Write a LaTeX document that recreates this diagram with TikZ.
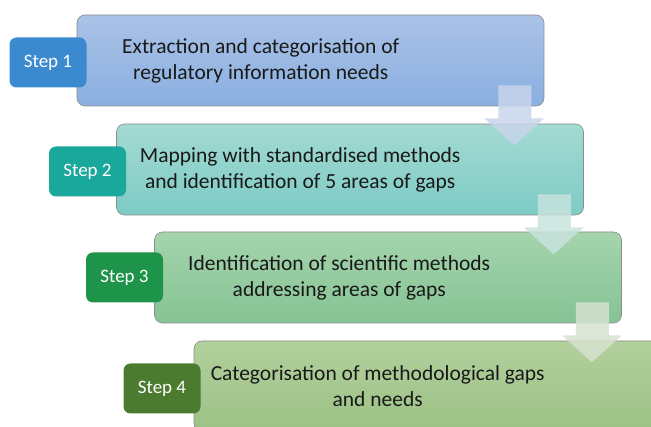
\documentclass[tikz,border=0pt]{standalone}
\usepackage{fontspec}
\setmainfont{Carlito}
\usetikzlibrary{positioning,calc}
\definecolor{boxonetop}{RGB}{170,194,231}
\definecolor{boxonebot}{RGB}{138,175,224}
\definecolor{boxtwotop}{RGB}{163,218,210}
\definecolor{boxtwobot}{RGB}{125,203,197}
\definecolor{boxthreetop}{RGB}{165,212,172}
\definecolor{boxthreebot}{RGB}{133,195,148}
\definecolor{boxfourtop}{RGB}{178,208,156}
\definecolor{boxfourbot}{RGB}{156,193,134}
\definecolor{stepone}{RGB}{59,138,208}
\definecolor{steptwo}{RGB}{26,167,156}
\definecolor{stepthree}{RGB}{30,147,74}
\definecolor{stepfour}{RGB}{75,123,47}
\definecolor{arrowone}{RGB}{201,213,235}
\definecolor{arrowtwo}{RGB}{200,227,221}
\definecolor{arrowthree}{RGB}{214,226,207}

\begin{document}
\begin{tikzpicture}[x=1pt,y=-1pt,
  stepbox/.style={draw=black!45, line width=0.6pt, rounded corners=8pt,
    minimum width=467pt, minimum height=91pt, inner sep=0pt},
  steplabel/.style={rounded corners=7pt, minimum width=77pt, minimum height=50pt,
    inner sep=0pt, text=white, font=\fontsize{19}{22}\selectfont},
  boxtext/.style={align=center, text=black!90, font=\fontsize{21.5}{26}\selectfont},
  flowarrow/.style={fill opacity=0.85}]
  \clip (0,0) rectangle (651,427);

  % Process boxes
  \node[stepbox, top color=boxonetop, bottom color=boxonebot] (box1) at (310.5,60.5) {};
  \node[stepbox, top color=boxtwotop, bottom color=boxtwobot] (box2) at (350,169.5) {};
  \node[stepbox, top color=boxthreetop, bottom color=boxthreebot] (box3) at (388,277.5) {};
  \node[stepbox, top color=boxfourtop, bottom color=boxfourbot] (box4) at (427.5,386.5) {};

  % Box texts
  \node[boxtext] (text1) at ($(box1.west)+(184,0)$) {Extraction and categorisation of\\regulatory information needs};
  \node[boxtext] (text2) at ($(box2.west)+(184,0)$) {Mapping with standardised methods\\and identification of 5 areas of gaps};
  \node[boxtext] (text3) at ($(box3.west)+(185,0)$) {Identification of scientific methods\\addressing areas of gaps};
  \node[boxtext] (text4) at ($(box4.west)+(184,0)$) {Categorisation of methodological gaps\\and needs};

  % Step labels
  \node[steplabel, fill=stepone, anchor=east] (step1) at ($(box1.west)+(10,2)$) {Step 1};
  \node[steplabel, fill=steptwo, anchor=east] (step2) at ($(box2.west)+(10,2)$) {Step 2};
  \node[steplabel, fill=stepthree, anchor=east] (step3) at ($(box3.west)+(9,0)$) {Step 3};
  \node[steplabel, fill=stepfour, anchor=east] (step4) at ($(box4.west)+(7,2)$) {Step 4};

  % Arrows between boxes
  \foreach \a/\c in {box1/arrowone, box2/arrowtwo, box3/arrowthree}
    \fill[flowarrow, fill=\c] ($(\a.south east)+(-46,-21)$) -- ($(\a.south east)+(-13,-21)$)
      -- ($(\a.south east)+(-13,12)$) -- ($(\a.south east)+(0,12)$)
      -- ($(\a.south east)+(-30,39)$) -- ($(\a.south east)+(-60,12)$)
      -- ($(\a.south east)+(-46,12)$) -- cycle;
\end{tikzpicture}
\end{document}
